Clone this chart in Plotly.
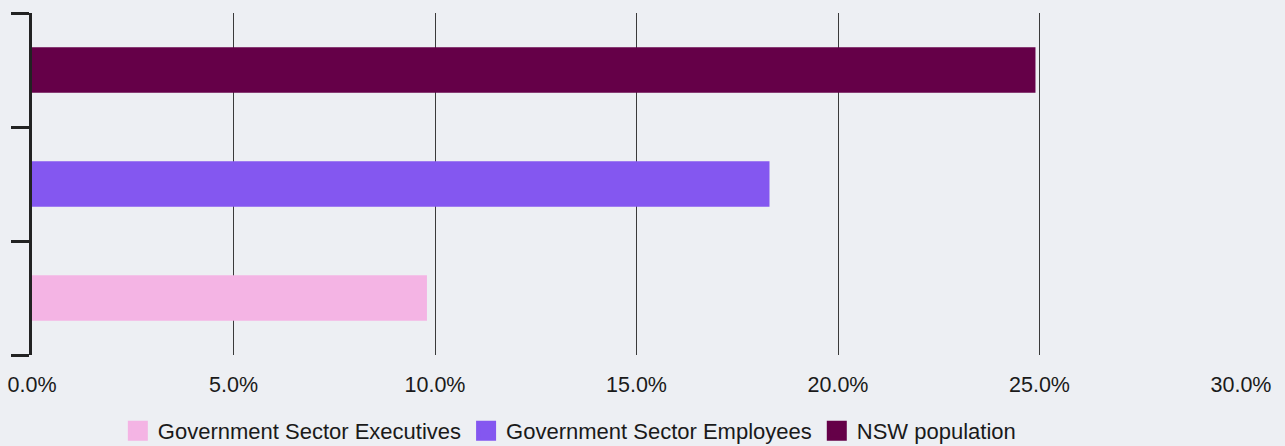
import plotly.graph_objects as go

# Share of each group (%), bottom to top
groups = ["Government Sector Executives", "Government Sector Employees", "NSW population"]
shares = [9.8, 18.3, 24.9]
colors = ["#F4B4E4", "#8457F0", "#650048"]

x_ticks = [0, 5, 10, 15, 20, 25, 30]
x_tick_labels = [f"{v:.1f}%" for v in x_ticks]

BG = "#EDEFF3"
INK = "#222222"

fig = go.Figure()

# One bar trace per group so each gets its own colour
for name, val, col in zip(groups, shares, colors):
    fig.add_trace(go.Bar(
        x=[val], y=[name], orientation="h",
        marker=dict(color=col, line=dict(width=0)),
        width=0.4, name=name, showlegend=False,
        hovertemplate="%{y}: %{x:.1f}%<extra></extra>",
    ))

# Legend entries with larger square swatches
for name, col in zip(groups, colors):
    fig.add_trace(go.Scatter(
        x=[None], y=[None], mode="markers", name=name,
        marker=dict(symbol="square", size=16, color=col,
                    line=dict(color=col, width=4)),
        showlegend=True,
    ))

fig.update_layout(
    width=1285, height=446,
    margin=dict(l=32, r=44, t=13, b=91, autoexpand=False),
    paper_bgcolor=BG, plot_bgcolor=BG,
    barmode="overlay",
    font=dict(family="Liberation Sans, Arial, sans-serif", size=21.5, color="#1a1a1a"),
    showlegend=True,
    legend=dict(
        orientation="h", xanchor="left", yanchor="middle",
        x=0.071, y=-0.222,
        font=dict(size=22, color="#1a1a1a"),
        bgcolor="rgba(0,0,0,0)", borderwidth=0,
        itemclick=False, itemdoubleclick=False,
    ),
    xaxis=dict(
        range=[0, 30], tickvals=x_ticks, ticktext=x_tick_labels,
        tickfont=dict(size=21.5),
        showgrid=True, gridcolor="#3a3a3a", gridwidth=1,
        zeroline=False, showline=False,
        ticks="outside", ticklen=10, tickcolor="rgba(0,0,0,0)",
        fixedrange=True,
    ),
    yaxis=dict(
        type="category", categoryorder="array", categoryarray=groups,
        showticklabels=False, showgrid=False, zeroline=False,
        showline=True, linecolor=INK, linewidth=2.5,
        ticks="outside", ticklen=18, tickwidth=2.5, tickcolor=INK,
        tickson="boundaries", fixedrange=True,
    ),
)

fig.write_html("out.html")
